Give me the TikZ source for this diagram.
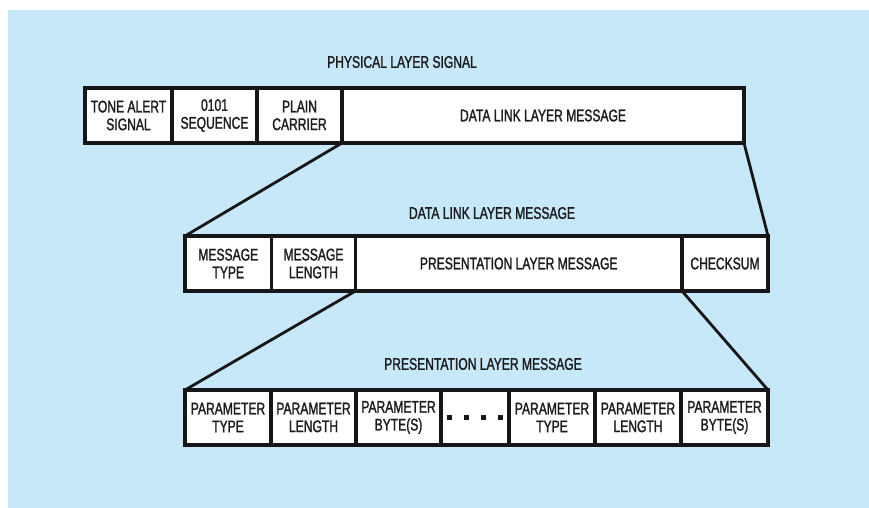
\documentclass[tikz,border=0pt]{standalone}
\usepackage{fontspec}
\newfontfamily\labelfont{Liberation Sans}[FakeStretch=0.72, FakeBold=1.4]

\definecolor{pagebg}{RGB}{199,232,248}
\definecolor{inkc}{RGB}{22,22,24}
\definecolor{txtc}{RGB}{28,28,30}

\tikzset{
  cell/.style={draw=inkc, fill=white, line width=3.8pt, rectangle,
    inner sep=0pt, outer sep=0pt, minimum height=55pt, align=center,
    text=txtc, font=\labelfont\fontsize{16.8}{17.8}\selectfont},
  heading/.style={text=txtc, inner sep=0pt,
    font=\labelfont\fontsize{16.8}{17.8}\selectfont},
  link/.style={draw=inkc, line width=2.8pt},
  dot/.style={fill=inkc}
}

\begin{document}
\begin{tikzpicture}[x=1pt, y=-1pt]
  \useasboundingbox (0,0) rectangle (869,508);
  \fill[white] (0,0) rectangle (869,508);
  \fill[pagebg] (8,10) rectangle (869,508);

  % headings
  \node[heading] (hphys) at (402,62) {PHYSICAL LAYER SIGNAL};
  \node[heading] (hdl)   at (492,213) {DATA LINK LAYER MESSAGE};
  \node[heading] (hpres) at (483,364) {PRESENTATION LAYER MESSAGE};

  % physical layer signal
  \node[cell, minimum width=87pt]  (tone) at (128.5,115.5) {TONE ALERT\\SIGNAL};
  \node[cell, minimum width=85pt]  (seq)  at (214.5,115.5) {0101\\SEQUENCE};
  \node[cell, minimum width=85pt]  (carr) at (299.5,115.5) {PLAIN\\CARRIER};
  \node[cell, minimum width=402pt] (dlm)  at (543,115.5)   {DATA LINK LAYER MESSAGE};

  % data link layer message
  \node[cell, minimum width=86.5pt]  (mtype) at (228.25,263.5) {MESSAGE\\TYPE};
  \node[cell, minimum width=84pt]    (mlen)  at (313.5,263.5)  {MESSAGE\\LENGTH};
  \node[cell, minimum width=326.5pt] (plm)   at (518.75,263.5) {PRESENTATION LAYER MESSAGE};
  \node[cell, minimum width=86pt]    (csum)  at (725,263.5)    {CHECKSUM};

  % presentation layer message
  \node[cell, minimum width=86pt] (ptype1) at (228,417.5)   {PARAMETER\\TYPE};
  \node[cell, minimum width=85pt] (plen1)  at (313.5,417.5) {PARAMETER\\LENGTH};
  \node[cell, minimum width=85pt] (pbyte1) at (398.5,417.5) {PARAMETER\\BYTE(S)};
  \node[cell, minimum width=68pt] (more)   at (475,417.5)   {};
  \node[cell, minimum width=86pt] (ptype2) at (552,417.5)   {PARAMETER\\TYPE};
  \node[cell, minimum width=86pt] (plen2)  at (638,417.5)   {PARAMETER\\LENGTH};
  \node[cell, minimum width=87pt] (pbyte2) at (724.5,417.5) {PARAMETER\\BYTE(S)};

  % ellipsis dots
  \foreach \dx in {-25.5,-8.5,8.5,25.5}
    \fill[dot] ([xshift=\dx pt]more.center) ++(-2.2,-2.2) rectangle ++(4.4,4.4);

  % expansion lines
  \draw[link] (carr.south east) -- (mtype.north west);
  \draw[link] (dlm.south east)  -- (csum.north east);
  \draw[link] (mlen.south east) -- (ptype1.north west);
  \draw[link] (csum.south west) -- (pbyte2.north east);
\end{tikzpicture}
\end{document}
